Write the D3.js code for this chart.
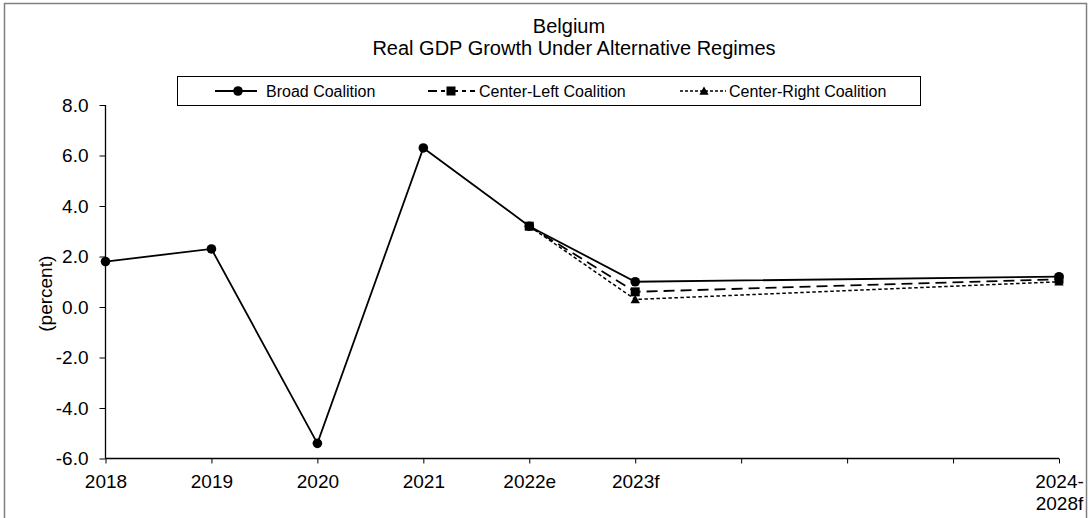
<!DOCTYPE html>
<html>
<head>
<meta charset="utf-8">
<script src="https://cdn.jsdelivr.net/npm/d3@7"></script>
<style>
  html, body { margin: 0; padding: 0; background: #fff; }
  svg { display: block; font-family: "Liberation Sans", Arial, sans-serif; }
</style>
</head>
<body>
<svg id="chart" width="1091" height="518"></svg>
<script>
// Categories along the x axis (blank slots keep the spacing of the five-year forecast period)
const categories = ["2018", "2019", "2020", "2021", "2022e", "2023f", "", "", "", "2024-\n2028f"];

// Real GDP growth, percent (null = no observation for that slot)
const broadCoalition      = [1.8, 2.3, -5.4, 6.3, 3.2, 1.0, null, null, null, 1.2];
const centerLeftCoalition = [null, null, null, null, 3.2, 0.6, null, null, null, 1.1];
const centerRightCoalition= [null, null, null, null, 3.2, 0.3, null, null, null, 1.0];

const seriesNames = ["Broad Coalition", "Center-Left Coalition", "Center-Right Coalition"];
const yTicks = [-6, -4, -2, 0, 2, 4, 6, 8];

const W = 1091, H = 518;
const svg = d3.select("#chart");

// outer frame
svg.append("rect")
  .attr("x", 4.5).attr("y", 3.5).attr("width", 1082).attr("height", 530)
  .attr("fill", "none").attr("stroke", "#808080").attr("stroke-width", 1.5);

const x = d3.scalePoint()
  .domain(d3.range(categories.length))
  .range([105.5, 1059]);

const y = d3.scaleLinear()
  .domain([-6, 8])
  .range([458.5, 105]);

const fmt = d3.formatLocale({decimal: ".", thousands: ",", grouping: [3], currency: ["", ""], minus: "-"}).format(".1f");

// y axis
const yAxis = svg.append("g")
  .attr("transform", "translate(105.5,0)")
  .call(d3.axisLeft(y).tickValues(yTicks).tickFormat(fmt).tickSize(6).tickPadding(11));
yAxis.select(".domain").attr("stroke", "#000").attr("stroke-width", 1.3).attr("d", `M0,${y(8)}V${y(-6)}`);
yAxis.selectAll(".tick line").attr("stroke", "#000").attr("stroke-width", 1);
yAxis.selectAll(".tick text").attr("font-size", 19).attr("fill", "#000")
  .attr("font-family", "Liberation Sans, Arial, sans-serif");

// x axis
const xAxis = svg.append("g")
  .attr("transform", `translate(0,${y(-6)})`)
  .call(d3.axisBottom(x).tickSize(5).tickFormat(""));
xAxis.select(".domain").attr("stroke", "#000").attr("stroke-width", 1.3)
  .attr("d", `M${x(0)},0H${x(categories.length - 1)}`);
xAxis.selectAll(".tick line").attr("stroke", "#000").attr("stroke-width", 1);

// x tick labels (multi-line where needed)
xAxis.selectAll(".tick").each(function(d) {
  const lines = categories[d].split("\n");
  const t = d3.select(this).append("text")
    .attr("fill", "#000")
    .attr("font-size", 19)
    .attr("text-anchor", "middle")
    .attr("font-family", "Liberation Sans, Arial, sans-serif");
  lines.forEach((ln, i) => {
    t.append("tspan").attr("x", 0).attr("y", 29 + i * 22).text(ln);
  });
});

// y axis title
svg.append("text")
  .attr("transform", `translate(52,${(y(8) + y(-6)) / 2 + 12}) rotate(-90)`)
  .attr("text-anchor", "middle")
  .attr("font-size", 19)
  .attr("fill", "#000")
  .text("(percent)");

// chart title
const title = svg.append("text")
  .attr("text-anchor", "middle")
  .attr("font-size", 20)
  .attr("fill", "#000");
title.append("tspan").attr("x", 569).attr("y", 33).text("Belgium");
title.append("tspan").attr("x", 574).attr("y", 55).text("Real GDP Growth Under Alternative Regimes");

// series definitions
const series = [
  {name: seriesNames[0], values: broadCoalition,       dash: null,    width: 1.8, marker: "circle"},
  {name: seriesNames[1], values: centerLeftCoalition,  dash: "11,6",  width: 1.8, marker: "square"},
  {name: seriesNames[2], values: centerRightCoalition, dash: "3.5,2.5", width: 1.5, marker: "triangle"}
];

const line = d3.line()
  .x(d => x(d.i))
  .y(d => y(d.v));

function pts(values) {
  return values.map((v, i) => ({i, v})).filter(d => d.v !== null);
}

function drawMarker(g, type, cx, cy) {
  if (type === "circle") {
    g.append("circle").attr("cx", cx).attr("cy", cy).attr("r", 4.8).attr("fill", "#000");
  } else if (type === "square") {
    g.append("rect").attr("x", cx - 4.5).attr("y", cy - 4.5).attr("width", 9).attr("height", 9).attr("fill", "#000");
  } else {
    g.append("path")
      .attr("d", d3.symbol().type(d3.symbolTriangle).size(38)())
      .attr("transform", `translate(${cx},${cy + 1})`)
      .attr("fill", "#000");
  }
}

const plot = svg.append("g");
// lines
[series[0], series[2], series[1]].forEach(s => {
  plot.append("path")
    .attr("d", line(pts(s.values)))
    .attr("fill", "none")
    .attr("stroke", "#000")
    .attr("stroke-width", s.width)
    .attr("stroke-dasharray", s.dash);
});
// markers
[series[2], series[0], series[1]].forEach(s => {
  const mg = plot.append("g");
  pts(s.values).forEach(d => drawMarker(mg, s.marker, x(d.i), y(d.v)));
});

// legend
const legend = svg.append("g");
legend.append("rect")
  .attr("x", 177.5).attr("y", 76.5).attr("width", 743).attr("height", 29)
  .attr("fill", "#fff").attr("stroke", "#000").attr("stroke-width", 1);

const legendItems = [
  {s: series[0], x0: 215, x1: 257, mx: 238, tx: 266},
  {s: series[1], x0: 428, x1: 475, mx: 451, tx: 479},
  {s: series[2], x0: 680, x1: 726, mx: 704, tx: 729}
];
const ly = 91;
legendItems.forEach(it => {
  let dash = it.s.dash;
  if (it.s.marker === "square") dash = "9,4,4,4";
  legend.append("line")
    .attr("x1", it.x0).attr("x2", it.x1).attr("y1", ly).attr("y2", ly)
    .attr("stroke", "#000").attr("stroke-width", it.s.width)
    .attr("stroke-dasharray", it.s.marker === "triangle" ? "3,2" : dash);
  drawMarker(legend, it.s.marker, it.mx, ly);
  legend.append("text")
    .attr("x", it.tx).attr("y", ly + 5.5)
    .attr("font-size", 16)
    .attr("fill", "#000")
    .text(it.s.name);
});
</script>
</body>
</html>
